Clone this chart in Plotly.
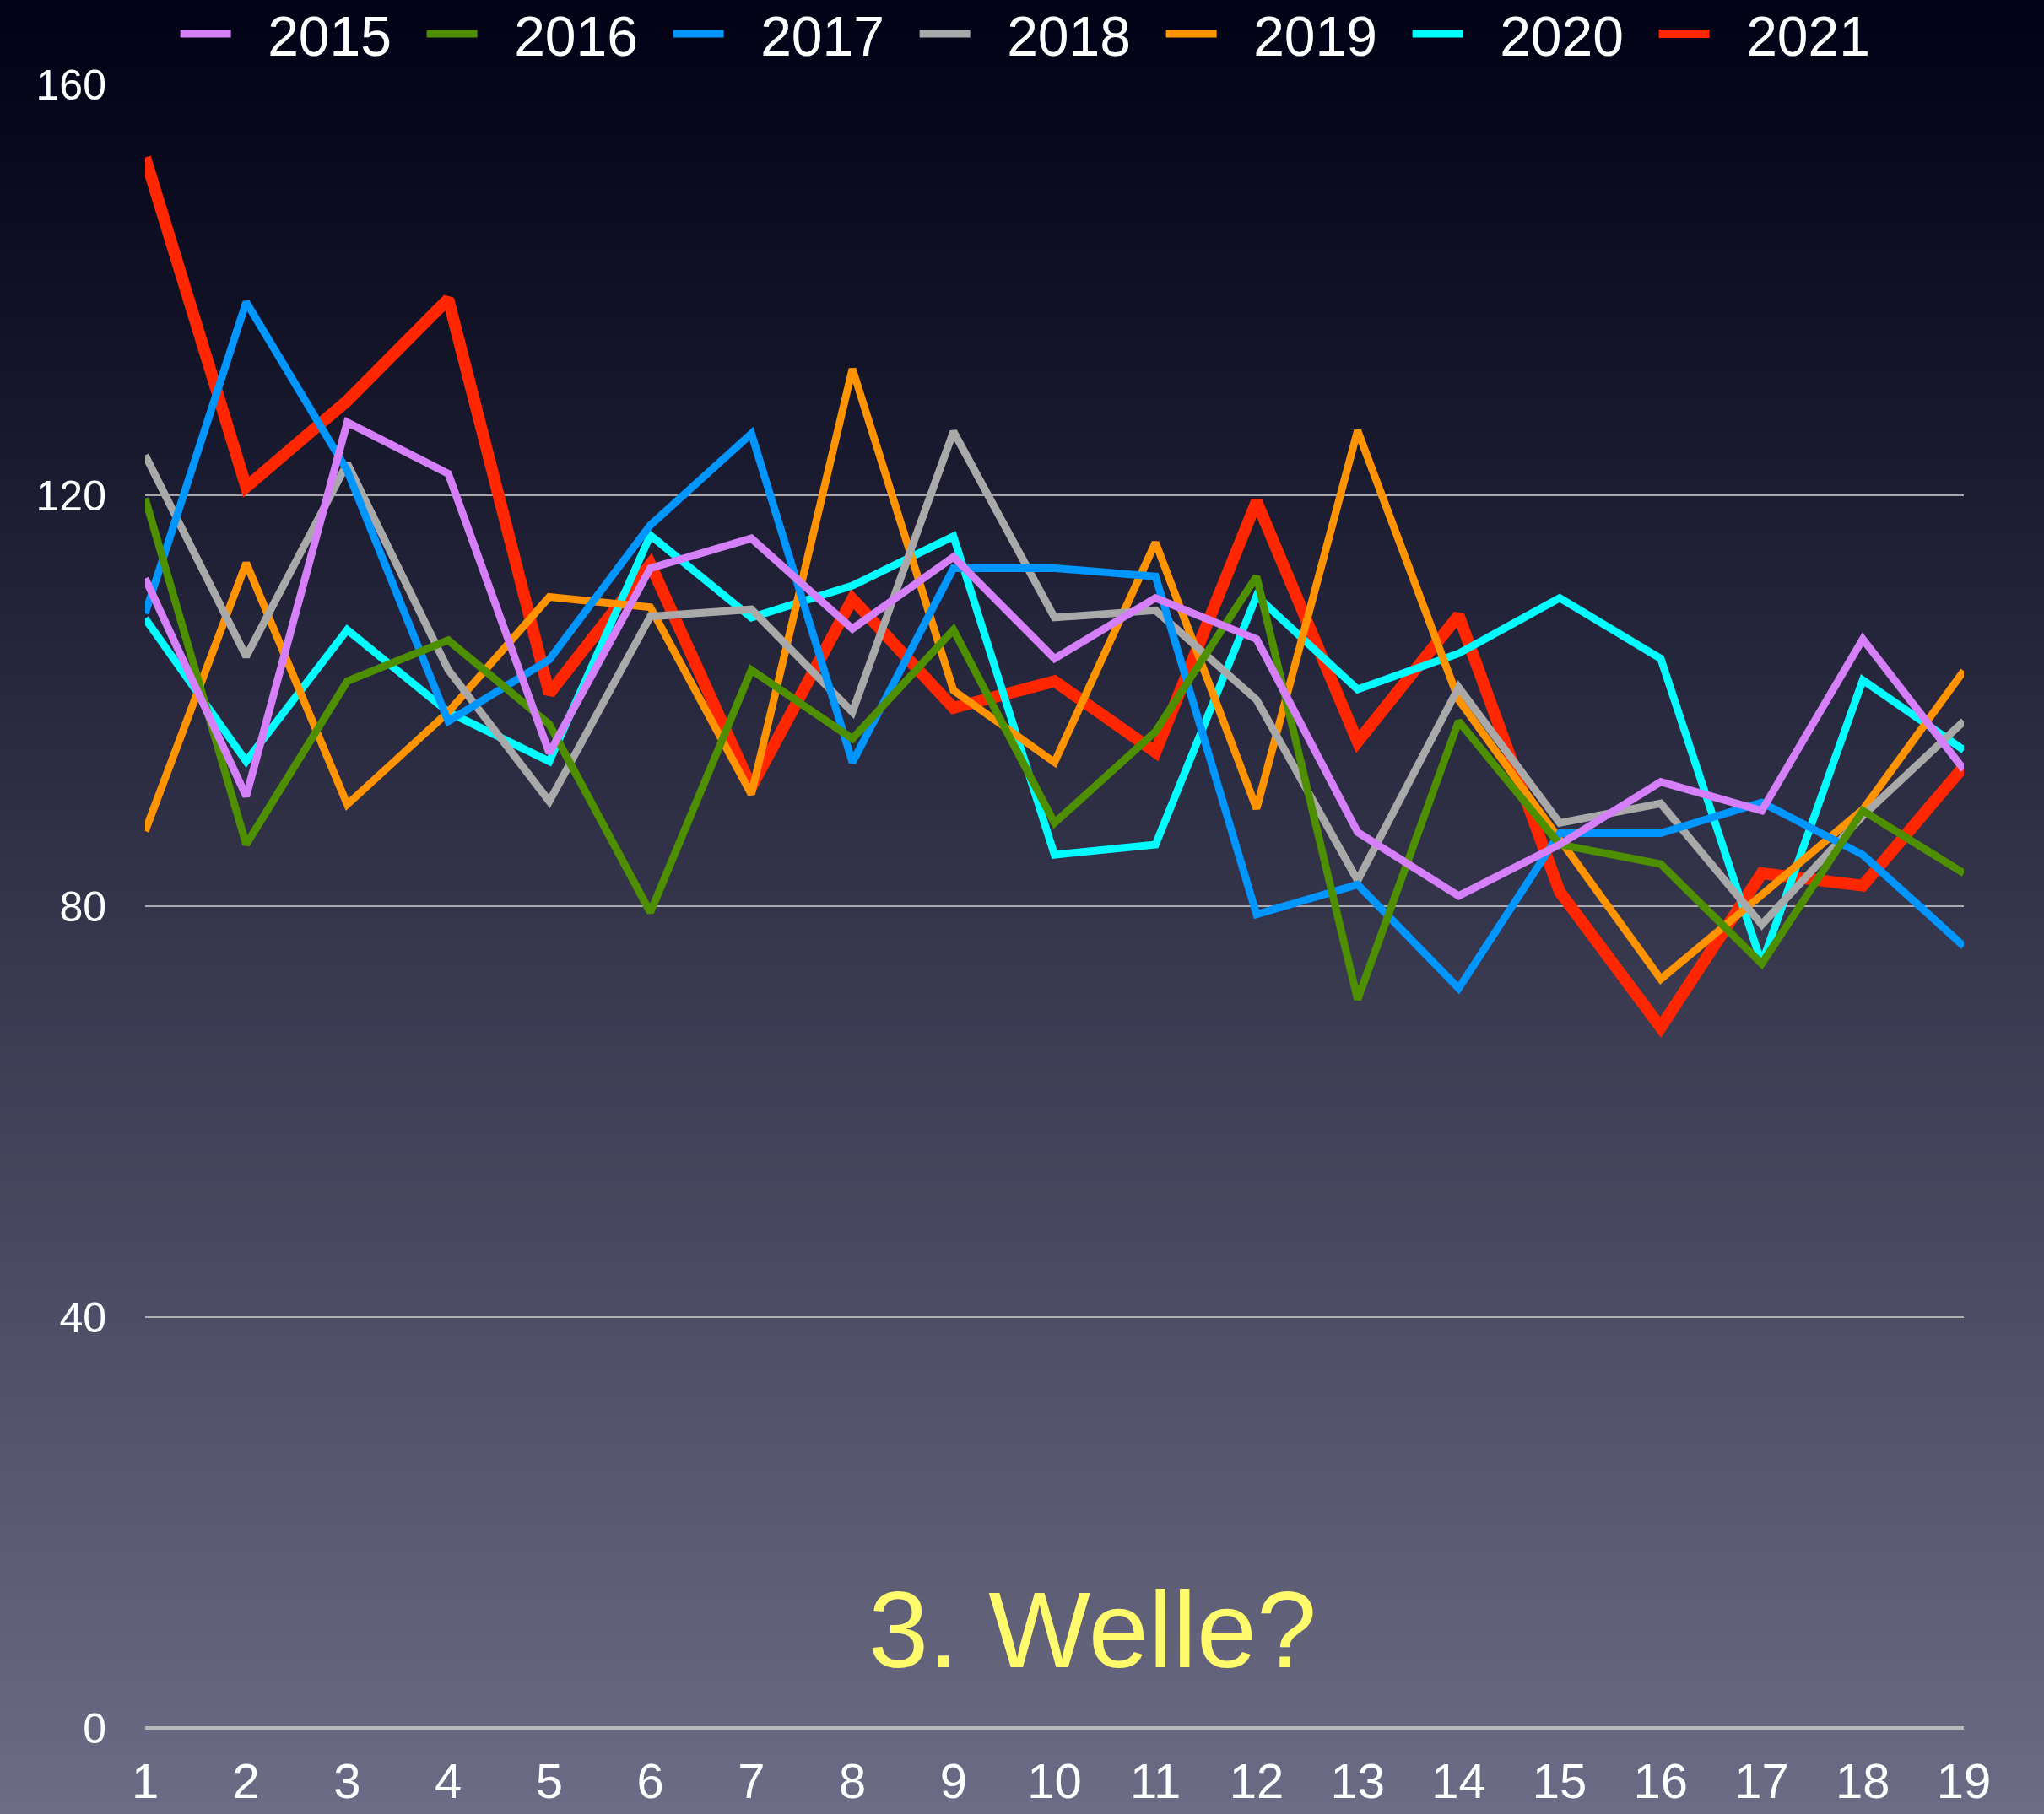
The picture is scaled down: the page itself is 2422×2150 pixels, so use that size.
import plotly.graph_objects as go

weeks = list(range(1, 20))
years = ["2015", "2016", "2017", "2018", "2019", "2020", "2021"]

v2015 = [111.9, 90.7, 127.1, 122.1, 94.9, 112.9, 115.8, 107.0, 114.0, 104.1, 110.0, 106.0, 87.2, 81.0, 86.0, 92.1, 89.3, 106.0, 93.3]
v2016 = [119.7, 86.0, 101.9, 105.9, 97.7, 79.4, 103.0, 96.3, 106.9, 88.1, 97.0, 112.1, 70.9, 98.0, 86.0, 84.1, 74.4, 89.3, 83.2]
v2017 = [108.5, 138.8, 122.4, 98.0, 104.0, 117.1, 126.0, 94.0, 112.9, 112.9, 112.1, 79.2, 82.1, 72.0, 87.1, 87.1, 90.1, 85.0, 76.1]
v2018 = [123.9, 104.3, 123.1, 103.0, 90.2, 108.2, 108.9, 98.9, 126.2, 108.1, 108.8, 100.1, 82.5, 101.3, 88.1, 90.0, 78.2, 88.8, 98.0]
v2019 = [87.3, 113.4, 89.9, 98.9, 110.1, 109.1, 90.9, 132.3, 101.0, 94.0, 115.4, 89.5, 126.3, 100.1, 86.5, 72.9, 81.1, 89.4, 102.9]
v2020 = [108.0, 94.1, 106.9, 98.9, 94.1, 116.1, 108.1, 111.2, 116.0, 85.0, 86.0, 110.2, 101.1, 104.6, 110.0, 104.1, 74.4, 102.0, 95.2]
v2021 = [152.9, 120.8, 129.2, 139.1, 100.7, 113.3, 91.6, 109.9, 99.3, 101.9, 95.0, 119.4, 96.0, 108.3, 81.4, 68.2, 83.2, 82.0, 93.6]

series = [v2015, v2016, v2017, v2018, v2019, v2020, v2021]
colors = ["#d57ff8", "#4e8f00", "#0096ff", "#a9a9a9", "#ff9300", "#00fdff", "#ff2600"]
widths = [9, 9, 9, 9, 9, 9, 14]

y_ticks = [0, 40, 80, 120, 160]
annotation_text = "3. Welle?"
legend_gap = "\u2002\u200a"  # small visual gap between legend line and label

fig = go.Figure()
# draw 2021 first so 2015 ends up on top (as in the reference)
for i in reversed(range(len(years))):
    fig.add_trace(go.Scatter(
        x=weeks, y=series[i], name=legend_gap + years[i], mode="lines",
        line=dict(color=colors[i], width=widths[i]),
        legendrank=int(years[i]), cliponaxis=False,
    ))

# vertical gradient background built from paper-referenced bands
top = (2, 2, 22)
bot = (108, 108, 134)
n = 160
t_m, b_m, H = 100, 102, 2150
l_m, r_m, W = 172, 95, 2422
ph = H - t_m - b_m
pw = W - l_m - r_m
y_lo = -b_m / ph
y_hi = 1 + t_m / ph
shapes = []
for k in range(n):
    f0 = k / n
    f1 = (k + 1) / n
    fm = (f0 + f1) / 2  # 0 at top, 1 at bottom
    g = fm ** 1.08
    c = tuple(int(round(top[j] + (bot[j] - top[j]) * g)) for j in range(3))
    y1 = y_hi - (y_hi - y_lo) * f0
    y0 = y_hi - (y_hi - y_lo) * f1
    if k == 0:
        y1 += 0.05
    if k == n - 1:
        y0 -= 0.05
    shapes.append(dict(type="rect", xref="paper", yref="paper",
                       x0=-0.2, x1=1.2, y0=y0 - 0.001, y1=y1 + 0.001,
                       fillcolor="rgb(%d,%d,%d)" % c, line=dict(width=0), layer="below"))

fig.update_layout(
    width=W, height=H,
    margin=dict(l=l_m, r=r_m, t=t_m, b=b_m, autoexpand=False),
    paper_bgcolor="rgb(40,40,64)",
    plot_bgcolor="rgba(0,0,0,0)",
    shapes=shapes,
    font=dict(family="Liberation Sans, Arial, sans-serif", color="white"),
    legend=dict(
        orientation="h", xanchor="left", x=0.017, yanchor="middle", y=1 + (t_m - 40) / ph,
        font=dict(size=66, color="white"), bgcolor="rgba(0,0,0,0)",
        entrywidth=217, entrywidthmode="pixels", itemwidth=60,
    ),
    xaxis=dict(
        range=[1, 19], tickvals=weeks, ticktext=[str(w) for w in weeks],
        showgrid=False, zeroline=False, showline=False,
        tickfont=dict(size=58, color="white"), ticklabelstandoff=24,
    ),
    yaxis=dict(
        range=[0, 160], tickvals=y_ticks,
        showgrid=True, gridcolor="rgba(200,200,200,0.8)", gridwidth=2,
        zeroline=True, zerolinecolor="rgba(190,190,190,0.95)", zerolinewidth=4,
        showline=False, tickfont=dict(size=50, color="white"), ticklabelstandoff=45,
    ),
    annotations=[dict(
        text=annotation_text, xref="paper", yref="paper",
        x=(1294 - l_m) / pw, y=(2048 - 1931) / ph,
        xanchor="center", yanchor="middle", showarrow=False,
        font=dict(size=128, color="#fffb6d", family="Liberation Sans, sans-serif"),
    )],
)

fig.write_html(
    "out.html",
    config={"displayModeBar": False},
    post_script="document.body.style.margin='0';document.body.style.background='rgb(40,40,64)';",
)
